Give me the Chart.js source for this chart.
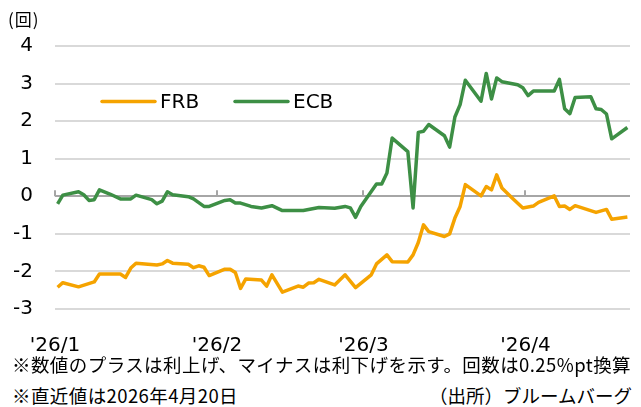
<!DOCTYPE html>
<html lang="ja">
<head>
<meta charset="utf-8">
<script src="https://cdn.jsdelivr.net/npm/chart.js@4"></script>
<style>
body{margin:0;background:#fff;}
#wrap{position:relative;width:641px;height:407px;overflow:hidden;font-family:"Noto Sans CJK JP",sans-serif;color:#000;}
#box{position:absolute;left:0;top:0;width:641px;height:360px;}
#unit{position:absolute;left:8px;top:6px;font-size:17px;letter-spacing:1px;}
.note{position:absolute;font-size:18.5px;white-space:nowrap;line-height:24px;}
</style>
</head>
<body>
<div id="wrap">
<div id="box"><canvas id="grafico"></canvas></div>
<div id="unit">(回)</div>
<div class="note" id="note1" style="left:12px;top:352px">※数値のプラスは利上げ、マイナスは利下げを示す。回数は0.25%pt換算</div>
<div class="note" id="note2" style="left:12px;top:383px">※直近値は2026年4月20日</div>
<div class="note" id="note3" style="right:9px;top:383px">（出所）ブルームバーグ</div>
</div>
<script>
// Eixo X: dias desde 1/1 (1/1 = 0)
const monthLabels = ["'26/1", "'26/2", "'26/3", "'26/4"];
const monthStarts = [-0.5, 30.5, 58.5, 89.5];
const yTicks = [-3, -2, -1, 0, 1, 2, 3, 4];

// FRB
const frbDays = [0,1,4,7,8,12,13,14,15,19,20,21,22,25,26,27,28,29,32,33,34,35,36,39,40,41,43,46,47,48,49,50,53,55,57,60,61,63,64,67,68,69,70,71,74,75,76,77,78,81,82,83,84,85,87,89,91,92,95,96,97,98,99,103,105,106,109];
const frbValues = [-2.42,-2.30,-2.41,-2.28,-2.07,-2.07,-2.16,-1.91,-1.78,-1.83,-1.80,-1.71,-1.78,-1.81,-1.90,-1.85,-1.89,-2.11,-1.94,-1.94,-2.03,-2.45,-2.20,-2.23,-2.39,-2.09,-2.55,-2.39,-2.42,-2.31,-2.30,-2.21,-2.36,-2.09,-2.43,-2.09,-1.80,-1.56,-1.74,-1.75,-1.56,-1.23,-0.76,-0.94,-1.07,-1.00,-0.58,-0.27,0.31,0.01,0.26,0.17,0.57,0.22,-0.05,-0.31,-0.26,-0.16,0.01,-0.27,-0.26,-0.35,-0.25,-0.43,-0.35,-0.61,-0.55];

// ECB
const ecbDays = [0,1,4,5,6,7,8,10,12,14,15,18,19,20,21,22,25,26,28,29,32,33,34,35,37,39,41,43,47,50,53,55,56,57,58,60,61,62,63,64,67,68,69,70,71,74,75,76,77,78,81,82,83,84,85,88,89,90,91,95,96,97,98,99,102,103,104,105,106,109];
const ecbValues = [-0.20,0.03,0.12,0.04,-0.11,-0.09,0.17,0.06,-0.07,-0.07,0.03,-0.09,-0.20,-0.13,0.12,0.04,-0.01,-0.07,-0.27,-0.27,-0.11,-0.09,-0.18,-0.18,-0.27,-0.31,-0.25,-0.38,-0.38,-0.30,-0.32,-0.27,-0.31,-0.56,-0.27,0.13,0.33,0.33,0.62,1.55,1.19,-0.31,1.70,1.73,1.91,1.61,1.31,2.11,2.44,3.09,2.53,3.27,2.59,3.15,3.05,2.97,2.89,2.68,2.80,2.80,3.11,2.33,2.20,2.63,2.65,2.33,2.31,2.19,1.53,1.83];

const pts = (xs, ys) => xs.map((d, i) => ({x: d, y: ys[i]}));

// notas: ajusta o espaçamento para a largura do original
function fitNote(id, width){
const el = document.getElementById(id);
const n = el.textContent.length;
const w = el.getBoundingClientRect().width;
el.style.letterSpacing = ((width - w) / n) + "px";
}
fitNote("note1", 619);
fitNote("note2", 226);

// marcas no eixo zero
const zeroTicks = {
id: "zeroTicks",
beforeDatasetsDraw(chart){
const {ctx, scales} = chart;
const y0 = scales.y.getPixelForValue(0);
ctx.save();
ctx.strokeStyle = "#a6a6a6";
ctx.lineWidth = 2;
monthStarts.forEach(v => {
const x = Math.round(scales.x.getPixelForValue(v));
ctx.beginPath();
ctx.moveTo(x, y0);
ctx.lineTo(x, y0 - 6);
ctx.stroke();
});
ctx.restore();
}
};

// legenda dentro do gráfico
const legendInside = {
id: "legendInside",
afterDraw(chart){
const {ctx, chartArea} = chart;
let x = chartArea.left + 47;
const y = chartArea.top + 55.5;
ctx.save();
ctx.font = "20px 'DejaVu Sans'";
ctx.textBaseline = "middle";
chart.data.datasets.forEach(ds => {
ctx.strokeStyle = ds.borderColor;
ctx.lineWidth = 3.5;
ctx.lineCap = "round";
ctx.beginPath();
ctx.moveTo(x, y);
ctx.lineTo(x + 53, y);
ctx.stroke();
ctx.fillStyle = "#000";
ctx.fillText(ds.label, x + 58, y + 1);
x += 133;
});
ctx.restore();
}
};

const ctx = document.getElementById("grafico");

new Chart(ctx, {
type: "line",
data: {
datasets: [
{label: "FRB", data: pts(frbDays, frbValues), borderColor: "#f5a300", borderWidth: 3.5, pointRadius: 0, tension: 0, borderJoinStyle: "round"},
{label: "ECB", data: pts(ecbDays, ecbValues), borderColor: "#3d8f45", borderWidth: 3.5, pointRadius: 0, tension: 0, borderJoinStyle: "round"}
]
},
options: {
responsive: true,
maintainAspectRatio: false,
animation: false,
layout: {padding: {top: 46, right: 11, left: 0, bottom: 0}},
plugins: {legend: {display: false}, tooltip: {enabled: false}},
scales: {
x: {
type: "linear",
min: -0.5,
max: 109.5,
grid: {display: false},
border: {display: false},
afterBuildTicks: s => { s.ticks = monthStarts.map(v => ({value: v})); },
afterFit: s => { s.height = 51; },
ticks: {
autoSkip: false,
maxRotation: 0,
padding: 17,
color: "#000",
font: {family: "DejaVu Sans", size: 20},
callback: v => { const i = monthStarts.indexOf(v); return i >= 0 ? monthLabels[i] : ""; }
}
},
y: {
min: -3,
max: 4,
afterBuildTicks: s => { s.ticks = yTicks.map(v => ({value: v})); },
afterFit: s => { s.width = 55; },
grid: {
drawTicks: false,
lineWidth: 2,
color: c => c.tick && c.tick.value === 0 ? "#a6a6a6" : "#d9d9d9"
},
border: {display: false},
ticks: {
padding: 22,
color: "#000",
font: {family: "DejaVu Sans", size: 20}
}
}
}
},
plugins: [zeroTicks, legendInside]
});
</script>
</body>
</html>
